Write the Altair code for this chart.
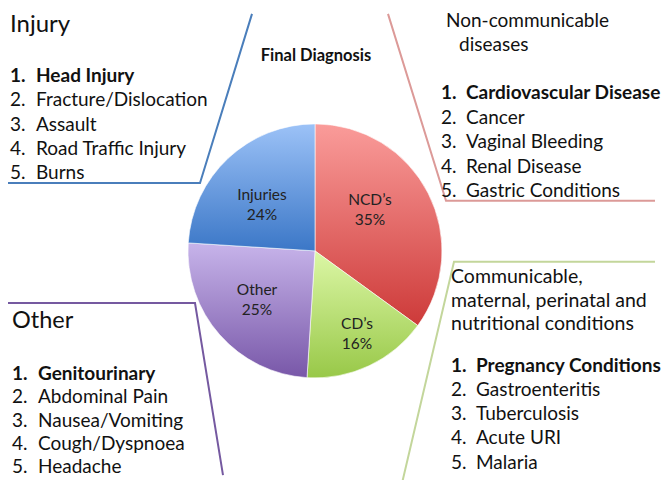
import altair as alt
import pandas as pd

# ---------------- data ----------------
pie_categories = ["NCD\u2019s", "CD\u2019s", "Other", "Injuries"]
pie_values = [35, 16, 25, 24]

injury_items = ["Head Injury", "Fracture/Dislocation", "Assault", "Road Traffic Injury", "Burns"]
ncd_items = ["Cardiovascular Disease", "Cancer", "Vaginal Bleeding", "Renal Disease", "Gastric Conditions"]
cd_items = ["Pregnancy Conditions", "Gastroenteritis", "Tuberculosis", "Acute URI", "Malaria"]
other_items = ["Genitourinary", "Abdominal Pain", "Nausea/Vomiting", "Cough/Dyspnoea", "Headache"]

chart_title = "Final Diagnosis"

# ---------------- layout / style ----------------
FONT = "Lato"
W, H = 654, 472
XS = alt.Scale(domain=[8, 8 + W], nice=False, zero=False)
# slight vertical compression so the whole 488px tall layout fits the visible area
YS = alt.Scale(domain=[8, 488], reverse=True, nice=False, zero=False)

slice_gradients = {
    "NCD\u2019s": ("#fa9c9a", "#cd3a39"),
    "CD\u2019s": ("#dcf7a6", "#98c848"),
    "Other": ("#c7b4ea", "#7857a8"),
    "Injuries": ("#9cc2f7", "#3b77c7"),
}
slice_label_pos = {
    "NCD\u2019s": (370, 213),
    "CD\u2019s": (357, 340),
    "Other": (257, 305),
    "Injuries": (262, 208),
}
PIE_CX, PIE_CY, PIE_R = 315, 255, 127

RS = -6  # right-hand text blocks nudged left so long lines stay visible
panels = [
    dict(items=injury_items, header=["Injury"], hx=[10], hy=[32], hsize=[24],
         nx=10, tx=36, y0=83, dy=24.8,
         line=[(6, 186), (200, 186), (252, 14)], color="#4a7ebb"),
    dict(items=ncd_items, header=["Non-communicable", "diseases"], hx=[452 + RS, 465 + RS], hy=[27, 52],
         hsize=[19, 19], nx=447 + RS, tx=472 + RS, y0=101, dy=24.8,
         line=[(388, 14), (446, 204), (655, 204)], color="#dc9a98"),
    dict(items=cd_items, header=["Communicable,", "maternal, perinatal and", "nutritional conditions"],
         hx=[457 + RS] * 3, hy=[288, 312, 335], hsize=[19.5, 19.5, 19.5],
         nx=457 + RS, tx=482 + RS, y0=378, dy=24.6,
         line=[(655, 266), (454, 266), (400, 500)], color="#c3d69b"),
    dict(items=other_items, header=["Other"], hx=[12], hy=[333], hsize=[23.5],
         nx=12, tx=38, y0=386, dy=23.8,
         line=[(6, 308), (195, 308), (223, 483)], color="#7559a0"),
]

# ---------------- tables ----------------
total = sum(pie_values)
starts, acc = [], 0
for v in pie_values:
    starts.append(acc)
    acc += v
pie_df = pd.DataFrame({
    "cat": pie_categories,
    "value": pie_values,
    "start": [s / total * 100 for s in starts],
    "end": [(s + v) / total * 100 for s, v in zip(starts, pie_values)],
    "cx": PIE_CX,
    "cy": PIE_CY,
})
pie_df["lx"] = [slice_label_pos[c][0] for c in pie_categories]
pie_df["ly"] = [slice_label_pos[c][1] for c in pie_categories]
pie_df["pct"] = [f"{v}%" for v in pie_values]

hdr_rows, num_rows, item_rows, bold_rows, line_rows = [], [], [], [], []
for gi, p in enumerate(panels):
    for t, hx, hy, hs in zip(p["header"], p["hx"], p["hy"], p["hsize"]):
        hdr_rows.append(dict(t=t, x=hx, y=hy, s=hs))
    for i, it in enumerate(p["items"]):
        y = p["y0"] + i * p["dy"]
        row_n = dict(t=f"{i + 1}.", x=p["nx"], y=y)
        row_t = dict(t=it, x=p["tx"], y=y)
        if i == 0:
            bold_rows += [row_n, row_t]
        else:
            num_rows.append(row_n)
            item_rows.append(row_t)
    for k, (lx, ly) in enumerate(p["line"]):
        line_rows.append(dict(g=str(gi), k=k, x=lx, y=ly))

hdr_df = pd.DataFrame(hdr_rows)
norm_df = pd.DataFrame(num_rows + item_rows)
bold_df = pd.DataFrame(bold_rows)
line_df = pd.DataFrame(line_rows)

# ---------------- chart ----------------
layers = []

# connector lines
layers.append(
    alt.Chart(line_df).mark_line(strokeWidth=2, clip=True).encode(
        x=alt.X("x:Q", scale=XS, axis=None),
        y=alt.Y("y:Q", scale=YS, axis=None),
        order="k:Q",
        detail="g:N",
        color=alt.Color("g:N", scale=alt.Scale(domain=[str(i) for i in range(len(panels))],
                                                range=[p["color"] for p in panels]), legend=None),
    )
)

# pie slices, each with its own vertical gradient
for cat in pie_categories:
    top, bot = slice_gradients[cat]
    grad = alt.Gradient(gradient="linear",
                        stops=[alt.GradientStop(color=top, offset=0), alt.GradientStop(color=bot, offset=1)],
                        x1=0, x2=0, y1=0, y2=1)
    layers.append(
        alt.Chart(pie_df).transform_filter(alt.datum.cat == cat).mark_arc(
            radius=PIE_R, color=grad, stroke="white", strokeWidth=0.6
        ).encode(
            x=alt.X("cx:Q", scale=XS, axis=None),
            y=alt.Y("cy:Q", scale=YS, axis=None),
            theta=alt.Theta("start:Q", scale=alt.Scale(domain=[0, 100], range=[0, 6.283185307])),
            theta2="end:Q",
        )
    )

# slice labels
lab_base = alt.Chart(pie_df).encode(
    x=alt.X("lx:Q", scale=XS, axis=None),
    y=alt.Y("ly:Q", scale=YS, axis=None),
)
layers.append(lab_base.mark_text(font=FONT, fontSize=15.5, color="#222222", dy=-10).encode(text="cat:N"))
layers.append(lab_base.mark_text(font=FONT, fontSize=15.5, color="#222222", dy=10).encode(text="pct:N"))

# chart title
title_df = pd.DataFrame({"t": [chart_title], "x": [316], "y": [62]})
layers.append(
    alt.Chart(title_df).mark_text(font=FONT, fontSize=16.5, fontWeight="bold", color="#111111",
                                  baseline="alphabetic").encode(
        x=alt.X("x:Q", scale=XS, axis=None), y=alt.Y("y:Q", scale=YS, axis=None), text="t:N")
)

# headers
layers.append(
    alt.Chart(hdr_df).mark_text(font=FONT, align="left", baseline="alphabetic", color="#111111").encode(
        x=alt.X("x:Q", scale=XS, axis=None), y=alt.Y("y:Q", scale=YS, axis=None), text="t:N",
        size=alt.Size("s:Q", scale=None, legend=None))
)
# list items
layers.append(
    alt.Chart(norm_df).mark_text(font=FONT, fontSize=19, align="left", baseline="alphabetic",
                                 color="#111111").encode(
        x=alt.X("x:Q", scale=XS, axis=None), y=alt.Y("y:Q", scale=YS, axis=None), text="t:N")
)
layers.append(
    alt.Chart(bold_df).mark_text(font=FONT, fontSize=19, fontWeight="bold", align="left",
                                 baseline="alphabetic", color="#111111").encode(
        x=alt.X("x:Q", scale=XS, axis=None), y=alt.Y("y:Q", scale=YS, axis=None), text="t:N")
)

chart = alt.layer(*layers).properties(
    width=W, height=H, padding=0, autosize=alt.AutoSizeParams(type="none"),
    background="white",
).configure_view(stroke=None)

chart.save("out.html", embed_options={"renderer": "svg", "actions": False})
